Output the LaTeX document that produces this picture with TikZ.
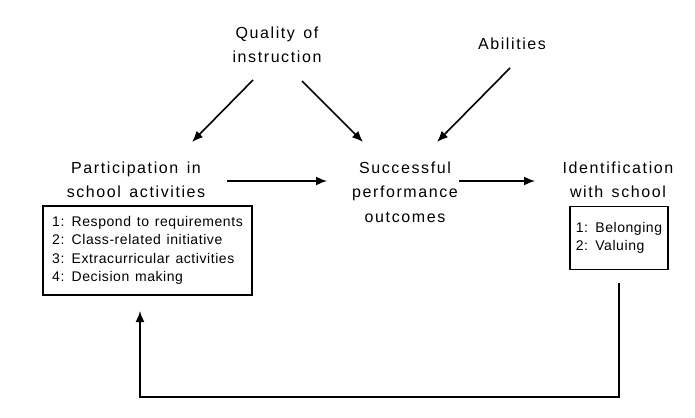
\documentclass[tikz,border=0pt]{standalone}
\usepackage{fontspec}
\setmainfont{Liberation Sans}[LetterSpace=10,WordSpace=1.4]
\newfontfamily\boxfont{Liberation Sans}[LetterSpace=4,WordSpace=1.3]
\usetikzlibrary{arrows.meta,calc}
\begin{document}
\begin{tikzpicture}[x=1pt,y=-1pt,
  lbl/.style={align=center,inner sep=0pt,font=\fontsize{16}{24.5}\selectfont},
  listbox/.style={draw,line width=1.5pt,align=left,inner sep=0pt,font=\boxfont\fontsize{14}{18.5}\selectfont},
  arr/.style={line width=1.6pt,-{Latex[length=11pt,width=9pt]}}]
\useasboundingbox (0,0) rectangle (695,417);
\node[lbl] (qual) at (277,45) {Quality of\\instruction};
\node[lbl] (abil) at (512,44) {Abilities};
\node[lbl] (part) at (136,180) {Participation in\\school activities};
\node[lbl] (succ) at (405,192) {Successful\\performance\\outcomes};
\node[lbl] (ident) at (618,180) {Identification\\with school};
\node[listbox,minimum width=209pt,minimum height=89pt] (pbox) at (147.5,250.5)
  {1: Respond to requirements\\2: Class-related initiative\\3: Extracurricular activities\\4: Decision making};
\node[listbox,minimum width=98pt,minimum height=63pt] (ibox) at (619,238)
  {1: Belonging\\2: Valuing};
\coordinate (q1) at (253,80);
\coordinate (q1e) at (192,142);
\coordinate (q2) at (302,81);
\coordinate (q2e) at (363,142);
\coordinate (a1) at (510,68);
\coordinate (a1e) at (437,142);
\coordinate (p1) at (227,181);
\coordinate (p1e) at (327,181);
\coordinate (s1) at (459,181);
\coordinate (s1e) at (535,181);
\coordinate (f1) at (619,283);
\coordinate (fb) at (619,397);
\coordinate (f2) at (140,311);
\draw[arr] (q1) -- (q1e);
\draw[arr] (q2) -- (q2e);
\draw[arr] (a1) -- (a1e);
\draw[arr] (p1) -- (p1e);
\draw[arr] (s1) -- (s1e);
\draw[arr] (f1) -- (fb) -| (f2);
\end{tikzpicture}
\end{document}
